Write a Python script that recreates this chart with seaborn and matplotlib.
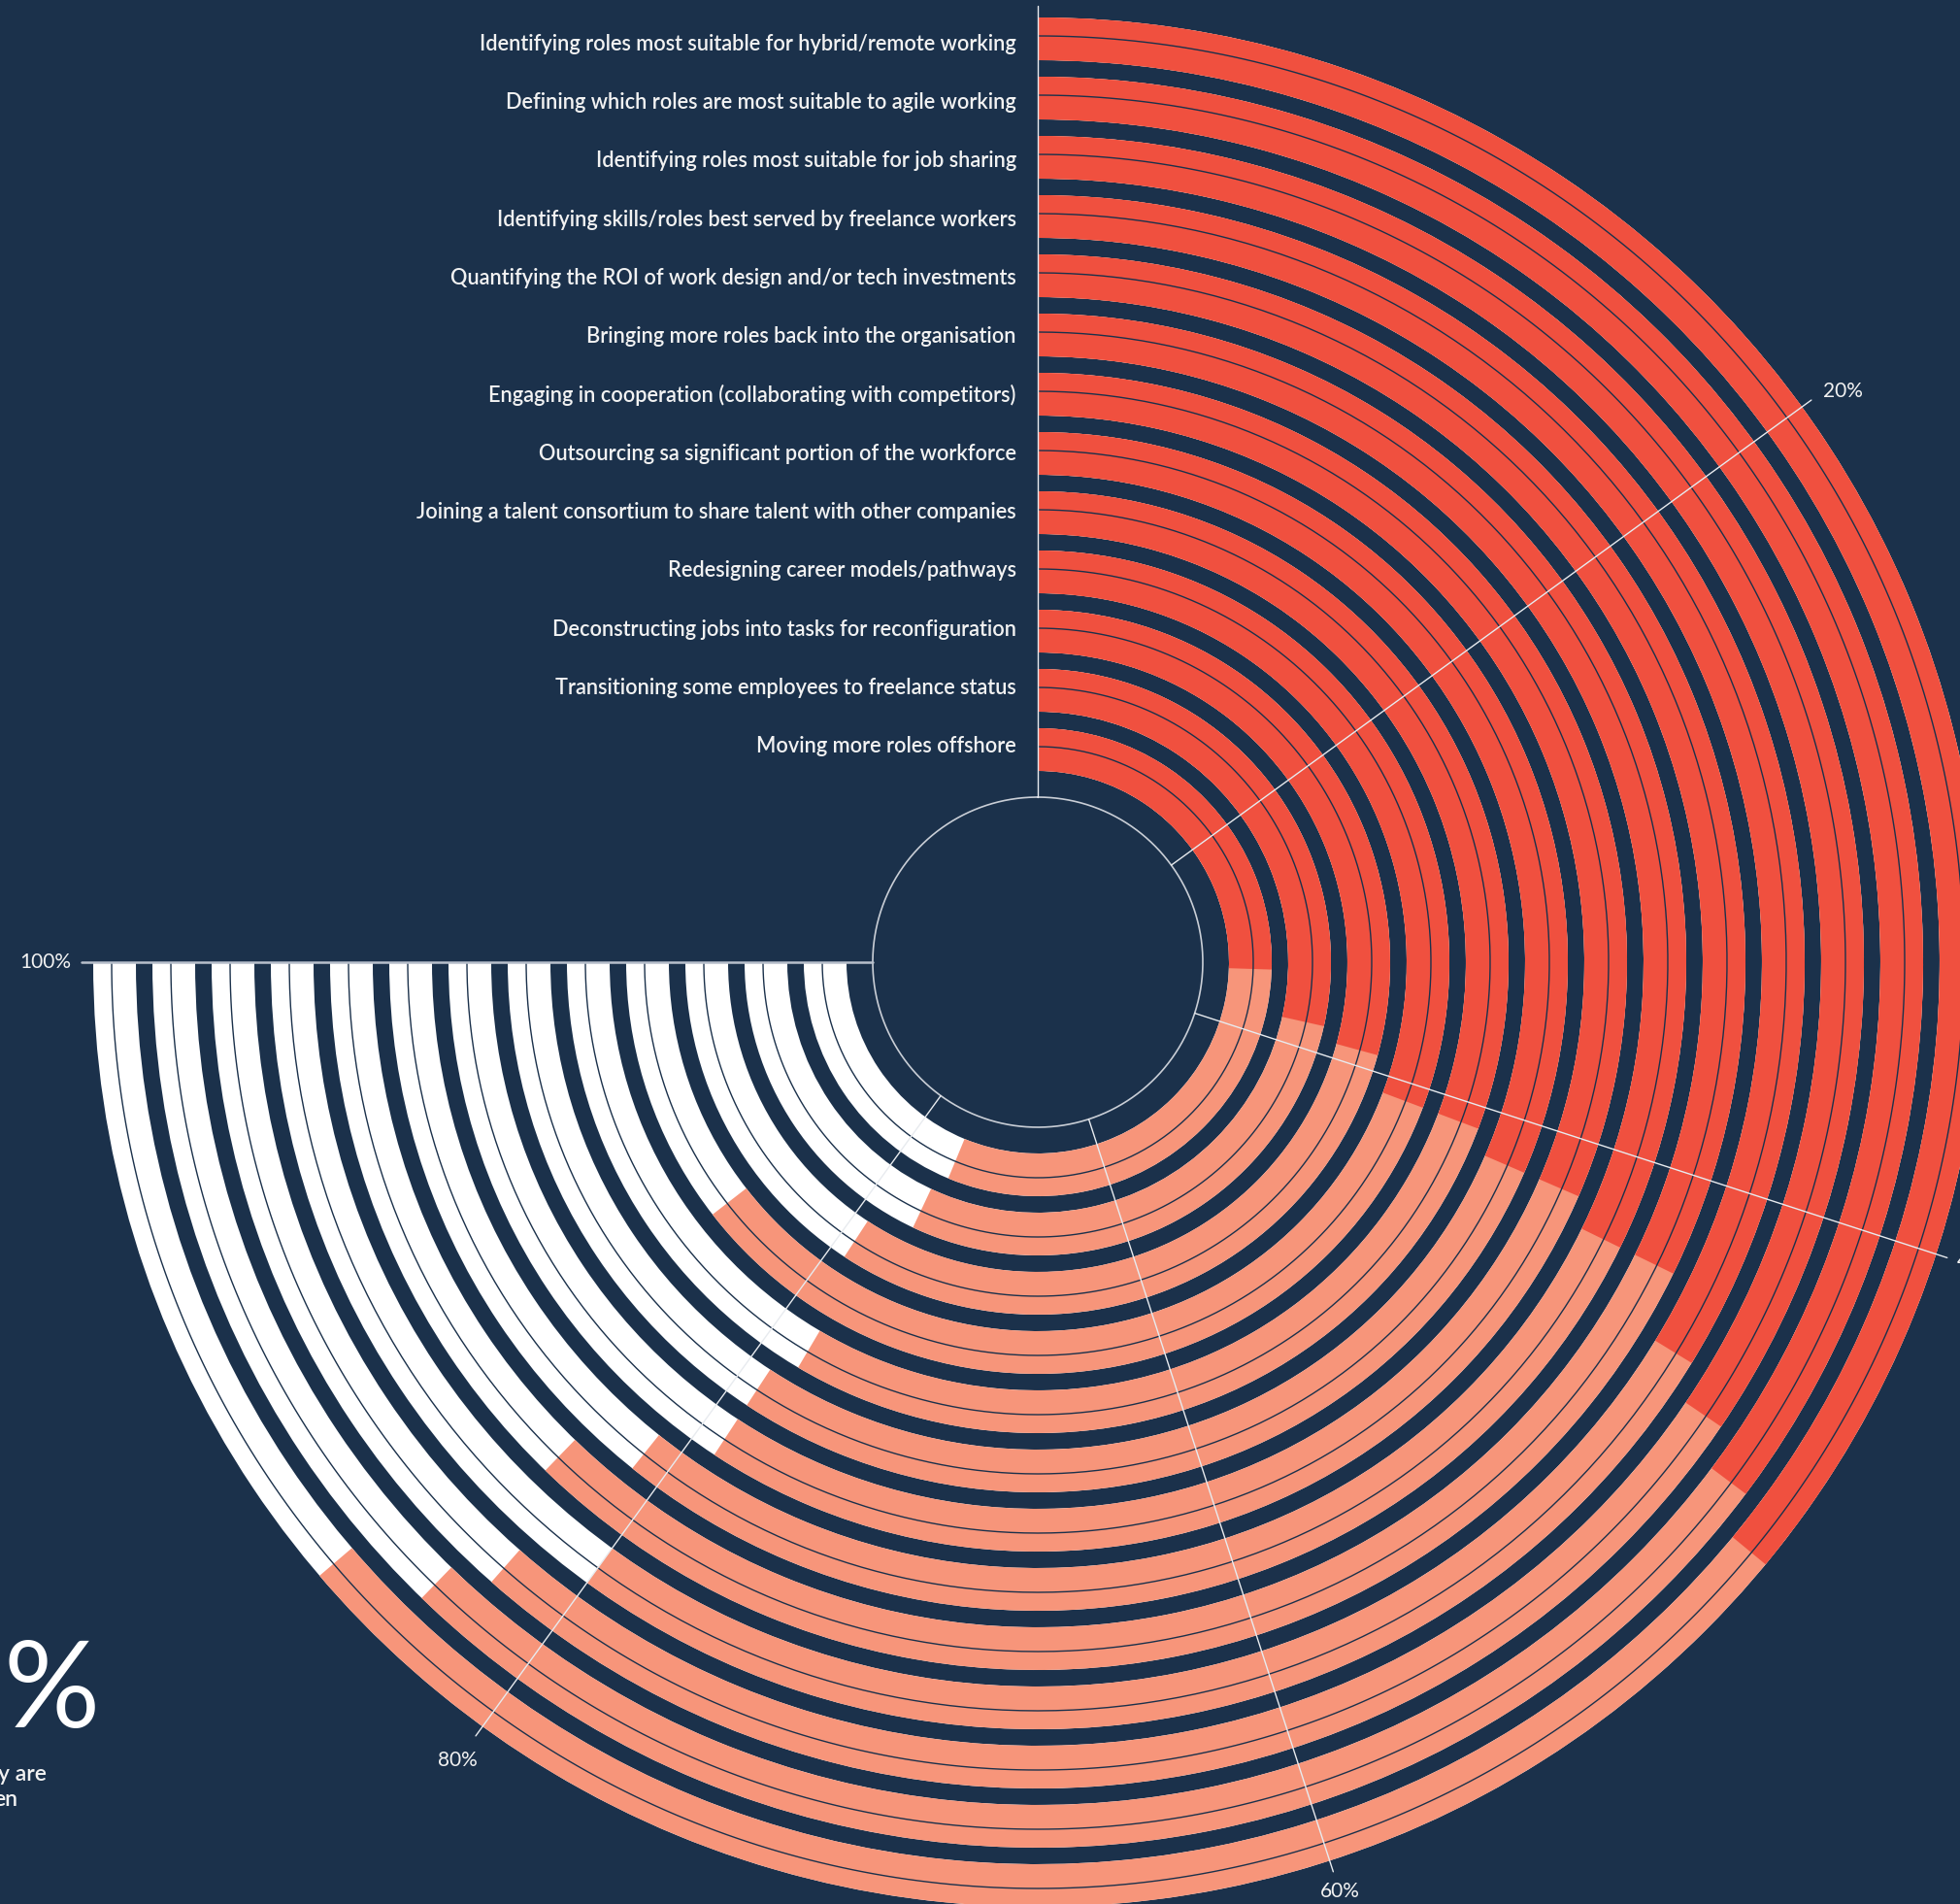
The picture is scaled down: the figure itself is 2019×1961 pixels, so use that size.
import numpy as np
import matplotlib
matplotlib.use("Agg")
import matplotlib.pyplot as plt
import seaborn as sns

# ---- data (outermost ring first) ----
categories = [
    "Identifying roles most suitable for hybrid/remote working",
    "Defining which roles are most suitable to agile working",
    "Identifying roles most suitable for job sharing",
    "Identifying skills/roles best served by freelance workers",
    "Quantifying the ROI of work design and/or tech investments",
    "Bringing more roles back into the organisation",
    "Engaging in cooperation (collaborating with competitors)",
    "Outsourcing sa significant portion of the workforce",
    "Joining a talent consortium to share talent with other companies",
    "Redesigning career models/pathways",
    "Deconstructing jobs into tasks for reconfiguration",
    "Transitioning some employees to freelance status",
    "Moving more roles offshore",
]
red_pct = [48, 47, 46, 45, 43, 43, 42, 42, 41, 41, 39, 38, 34]
salmon_pct = [37, 36, 36, 35, 40, 38, 37, 37, 37, 45, 40, 38, 41]
white_pct = [15, 17, 18, 20, 17, 19, 21, 21, 22, 14, 21, 24, 25]
tick_values = [0, 20, 40, 60, 80, 100]
tick_labels = ["", "20%", "40%", "60%", "80%", "100%"]

# ---- style ----
BG = "#1b314b"
RED = "#f0503f"
SALMON = "#f7957a"
WHITE = "#ffffff"
TXT = "#f2f2f2"

sns.set_theme(style="dark", rc={"axes.facecolor": BG, "figure.facecolor": BG})
plt.rcParams["font.family"] = ["Lato", "DejaVu Sans"]

W, H = 2019, 1961
CX, CY = 1069, 991          # centre of the dial in pixels
RMAX = 1100                  # radial axis limit (1 unit = 1 px)

fig = plt.figure(figsize=(W / 100, H / 100), dpi=100)
ax = fig.add_axes([(CX - RMAX) / W, (H - CY - RMAX) / H, 2 * RMAX / W, 2 * RMAX / H],
                  projection="polar")
ax.set_theta_zero_location("N")
ax.set_theta_direction(-1)
ax.set_ylim(0, RMAX)
ax.set_facecolor(BG)
ax.grid(False)
ax.set_xticks([])
ax.set_yticks([])
ax.spines["polar"].set_visible(False)


def ang(p):
    """percentage -> angle: 100% spans three quarters of a turn"""
    return np.deg2rad(np.asarray(p, dtype=float) * 2.7)


ring_outer = 973
pitch = 61
thick = 44
r_hole = 170

red = np.array(red_pct, float)
sal = np.array(salmon_pct, float)
wht = np.array(white_pct, float)
total = red + sal + wht

for k in range(len(categories)):
    r_in = ring_outer - pitch * k - thick
    # stacked segments drawn back to front so the edges never leave seams
    for val, col in ((total[k], WHITE), (red[k] + sal[k], SALMON), (red[k], RED)):
        ax.bar(0, thick, width=ang(val), bottom=r_in, align="edge",
               color=col, linewidth=0, zorder=2)
    # thin divider circle through each ring
    tt = np.linspace(0, ang(100), 400)
    ax.plot(tt, np.full_like(tt, r_in + thick - 19), color=BG, lw=1.0, zorder=3)
    # category label at the top end of the ring
    dy = -(5.2 - 0.7 * k) * 0.72
    ax.annotate(categories[k], xy=(0, r_in + thick / 2), xytext=(-16, dy),
                textcoords="offset points", ha="right", va="center",
                color=TXT, fontsize=15.7, fontweight="semibold", zorder=5)

# centre hole outline
tt = np.linspace(0, 2 * np.pi, 500)
ax.plot(tt, np.full_like(tt, r_hole), color="#c9ced6", lw=1.2, zorder=4)

# spokes for the percentage scale
for v in tick_values:
    col = "#b7bfcb" if v == 100 else "#e8ebef"
    lw = 1.8 if v == 100 else 1.0
    ax.plot([ang(v), ang(v)], [r_hole, 985], color=col, lw=lw, zorder=4)

label_pos = {20: (1000, "left", "center"), 40: (996, "left", "center"),
             60: (1006, "center", "center"), 80: (1016, "center", "center"),
             100: (996, "right", "center")}
for v, lab in zip(tick_values, tick_labels):
    if not lab:
        continue
    r, ha, va = label_pos[v]
    ax.text(ang(v), r, lab, ha=ha, va=va, color=TXT, fontsize=15, zorder=5)

# side callout, running off the left edge
fig.text(103 / W, (H - 1779) / H, "%", ha="right", va="baseline", color=WHITE,
         fontsize=89, fontweight="normal")
fig.text(48 / W, (H - 1827) / H, "y are", ha="right", va="center", color=TXT,
         fontsize=16.5, fontweight="semibold")
fig.text(18 / W, (H - 1854) / H, "en", ha="right", va="center", color=TXT,
         fontsize=16.5, fontweight="semibold")

fig.savefig("out.png", dpi=100, facecolor=BG)
